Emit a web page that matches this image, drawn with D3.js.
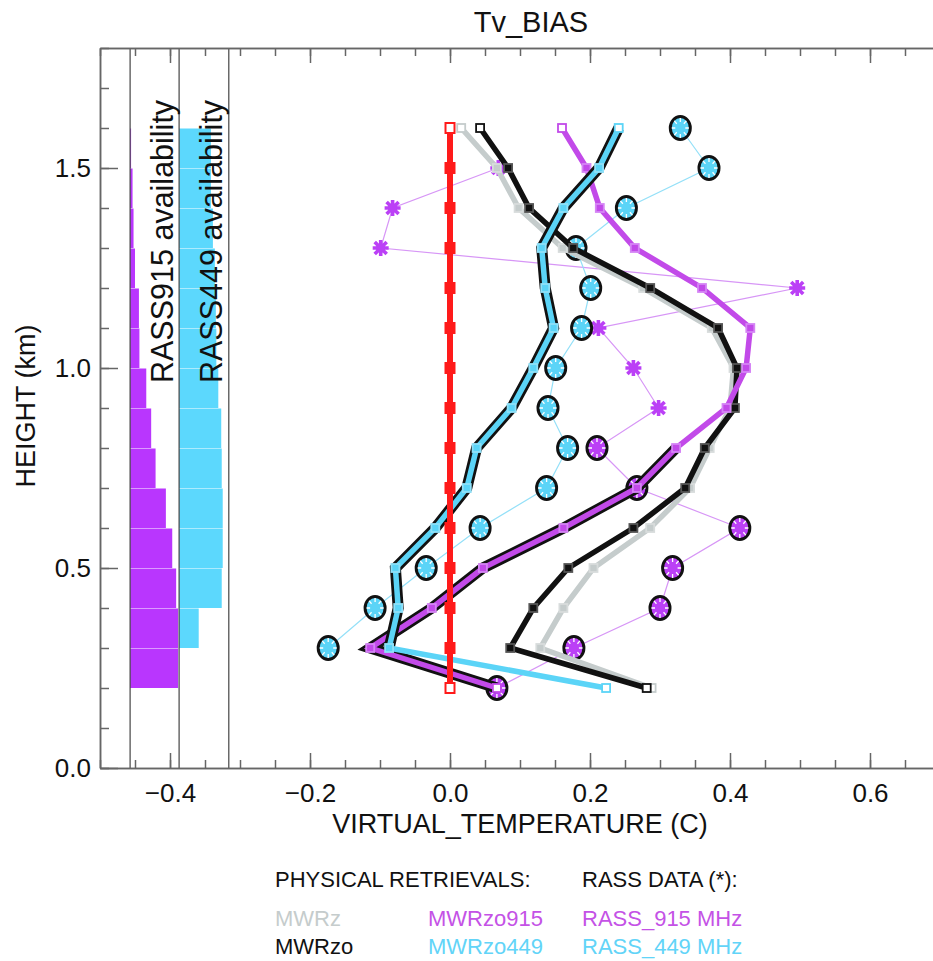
<!DOCTYPE html>
<html>
<head>
<meta charset="utf-8">
<script src="https://cdn.jsdelivr.net/npm/d3@7"></script>
<style>
  body { margin: 0; background: #fff; }
  text { font-family: "Liberation Sans", Arial, sans-serif; fill: #111; }
</style>
</head>
<body>
<script>
// heights of the retrieval levels (km), bottom to top
var heights = [0.2, 0.3, 0.4, 0.5, 0.6, 0.7, 0.8, 0.9, 1.0, 1.1, 1.2, 1.3, 1.4, 1.5, 1.6];

var refBias  = [0, 0, 0, 0, 0, 0, 0, 0, 0, 0, 0, 0, 0, 0, 0];
var mwrz     = [0.288, 0.129, 0.162, 0.205, 0.286, 0.343, 0.371, 0.400, 0.405, 0.374, 0.276, 0.161, 0.098, 0.067, 0.016];
var mwrzo    = [0.281, 0.086, 0.119, 0.169, 0.262, 0.336, 0.364, 0.407, 0.410, 0.383, 0.286, 0.176, 0.113, 0.083, 0.043];
var mwrzo915 = [0.067, -0.114, -0.026, 0.047, 0.162, 0.267, 0.323, 0.395, 0.423, 0.429, 0.360, 0.264, 0.214, 0.195, 0.160];
var mwrzo449 = [0.223, -0.087, -0.074, -0.078, -0.021, 0.024, 0.038, 0.088, 0.119, 0.148, 0.136, 0.131, 0.162, 0.213, 0.241];

var rass915  = [0.067, 0.177, 0.300, 0.318, 0.414, 0.267, 0.210, 0.298, 0.262, 0.212, 0.496, -0.099, -0.082, 0.069, null];
var rass449  = [null, -0.174, -0.107, -0.034, 0.043, 0.138, 0.168, 0.140, 0.151, 0.188, 0.201, 0.180, 0.252, 0.370, 0.329];
// levels marked with an ellipse (and outlined retrieval)
var mark915  = [1, 1, 1, 1, 1, 1, 1, 0, 0, 0, 0, 0, 0, 0, 0];
var mark449  = [0, 1, 1, 1, 1, 1, 1, 1, 1, 1, 1, 1, 1, 1, 1];

// availability bins (bottom of each 0.1 km bin) in percent
var binBottoms = [0.2, 0.3, 0.4, 0.5, 0.6, 0.7, 0.8, 0.9, 1.0, 1.1, 1.2, 1.3, 1.4, 1.5];
var avail915   = [98, 98, 94, 86, 73, 52, 43, 33, 19, 18, 10, 7, 5, 2];
var avail449   = [0, 40, 87, 89, 89, 87, 86, 80, 76, 75, 73, 69, 65, 65];

var xTickLabels = [-0.4, -0.2, 0.0, 0.2, 0.4, 0.6];
var yTickLabels = [0.0, 0.5, 1.0, 1.5];
var panelEdges  = [-0.457, -0.387, -0.316];

var legendRows = [
    [{t: "PHYSICAL RETRIEVALS:", c: "#111"}, null, {t: "RASS DATA (*):", c: "#111"}],
    [{t: "MWRz", c: "#c5cccc"}, {t: "MWRzo915", c: "#c452e6"}, {t: "RASS_915 MHz", c: "#c452e6"}],
    [{t: "MWRzo", c: "#111"}, {t: "MWRzo449", c: "#62d4f8"}, {t: "RASS_449 MHz", c: "#62d4f8"}]
];

var W = 933, H = 961;
var MAG = "#c24ae9", MAG_STAR = "#bb40f6", MAG_BAR = "#b936fe", MAG_THIN = "#d796f6";
var CYA = "#5bd4f7", CYA_BAR = "#5cd8fd", CYA_THIN = "#94e0f8";

var x = d3.scaleLinear().domain([-0.5, 0.7]).range([100, 940]);
var y = d3.scaleLinear().domain([0, 1.8]).range([768, 48]);
var availW = d3.scaleLinear().domain([0, 100]).range([0, x(panelEdges[1]) - x(panelEdges[0])]);

var svg = d3.select("body").append("svg").attr("width", W).attr("height", H);

// availability bars
function drawAvail(vals, x0, color) {
    svg.append("g").selectAll("rect")
        .data(binBottoms.map(function(b, i) { return {b: b, v: vals[i]}; }).filter(function(d) { return d.v > 0; }))
        .enter().append("rect")
        .attr("x", x(x0))
        .attr("y", function(d) { return y(d.b + 0.1) + 0.5; })
        .attr("width", function(d) { return availW(d.v); })
        .attr("height", function(d) { return y(d.b) - y(d.b + 0.1) - 0.5; })
        .style("fill", color);
}
drawAvail(avail915, panelEdges[0], MAG_BAR);
drawAvail(avail449, panelEdges[1], CYA_BAR);

svg.append("g").selectAll("line").data(panelEdges).enter().append("line")
    .attr("x1", function(d) { return x(d); }).attr("x2", function(d) { return x(d); })
    .attr("y1", y(1.8)).attr("y2", y(0))
    .style("stroke", "#444").style("stroke-width", 1.2);

svg.append("text").attr("transform", "translate(" + 173 + "," + 383 + ") rotate(-90)")
    .style("font-size", "30.5px").text("RASS915 availability");
svg.append("text").attr("transform", "translate(" + 222 + "," + 383 + ") rotate(-90)")
    .style("font-size", "30.5px").text("RASS449 availability");

// axes
function styleAxis(g) {
    g.selectAll("path, line").style("stroke", "#666").style("stroke-width", 1.5);
    g.selectAll("text").style("font-size", "26px").style("fill", "#111")
        .style("font-family", '"Liberation Sans", Arial, sans-serif');
}
var minorX = d3.range(-10, 15).map(function(i) { return i * 0.05; });
var minorY = d3.range(0, 19).map(function(i) { return i * 0.1; });

svg.append("g").attr("transform", "translate(0," + y(0) + ")")
    .call(d3.axisBottom(x).tickValues(minorX).tickSize(-8).tickSizeOuter(0).tickFormat(""))
    .call(styleAxis);
svg.append("g").attr("transform", "translate(0," + y(0) + ")")
    .call(d3.axisBottom(x).tickValues(xTickLabels).tickSize(-15).tickSizeOuter(0).tickPadding(16)
        .tickFormat(d3.format(".1f")))
    .call(styleAxis);
svg.append("g").attr("transform", "translate(0," + y(1.8) + ")")
    .call(d3.axisTop(x).tickValues(minorX).tickSize(-8).tickSizeOuter(0).tickFormat(""))
    .call(styleAxis);
svg.append("g").attr("transform", "translate(0," + y(1.8) + ")")
    .call(d3.axisTop(x).tickValues(xTickLabels).tickSize(-15).tickSizeOuter(0).tickFormat(""))
    .call(styleAxis);
svg.append("g").attr("transform", "translate(" + x(-0.5) + ",0)")
    .call(d3.axisLeft(y).tickValues(minorY).tickSize(-9).tickSizeOuter(0).tickFormat(""))
    .call(styleAxis);
svg.append("g").attr("transform", "translate(" + x(-0.5) + ",0)")
    .call(d3.axisLeft(y).tickValues(yTickLabels).tickSize(-18).tickSizeOuter(0).tickPadding(9)
        .tickFormat(d3.format(".1f")))
    .call(styleAxis);

// titles
svg.append("text").attr("x", 531).attr("y", 32).attr("text-anchor", "middle")
    .style("font-size", "29px").text("Tv_BIAS");
svg.append("text").attr("x", 520).attr("y", 833).attr("text-anchor", "middle")
    .style("font-size", "27px").text("VIRTUAL_TEMPERATURE (C)");
svg.append("text").attr("transform", "translate(35," + 406 + ") rotate(-90)")
    .attr("text-anchor", "middle").style("font-size", "27px").text("HEIGHT (km)");

// RASS data: thin lines and star markers
function pts(vals) {
    return heights.map(function(h, i) { return {h: h, v: vals[i], i: i}; });
}
function drawRass(vals, marks, lineColor, color) {
    var line = d3.line()
        .defined(function(d) { return d.v != null; })
        .x(function(d) { return x(d.v); })
        .y(function(d) { return y(d.h); });
    svg.append("path").datum(pts(vals)).attr("d", line)
        .style("fill", "none").style("stroke", lineColor).style("stroke-width", 1.2);

    var g = svg.append("g").selectAll("g")
        .data(pts(vals).filter(function(d) { return d.v != null; }))
        .enter().append("g")
        .attr("transform", function(d) { return "translate(" + x(d.v) + "," + y(d.h) + ")"; });

    g.filter(function(d) { return marks[d.i]; }).each(function() {
        var m = d3.select(this);
        m.append("ellipse").attr("rx", 10).attr("ry", 11.5)
            .style("fill", color).style("stroke", "#111").style("stroke-width", 3);
        m.append("path")
            .attr("d", d3.range(8).map(function(k) {
                var a = k * Math.PI / 4;
                return "M" + (5 * Math.cos(a)) + "," + (6 * Math.sin(a)) +
                       "L" + (8.5 * Math.cos(a)) + "," + (10 * Math.sin(a));
            }).join(""))
            .style("stroke", "#fff").style("stroke-width", 1.3);
    });
    g.filter(function(d) { return !marks[d.i]; }).each(function() {
        var m = d3.select(this);
        m.append("path")
            .attr("d", "M-8,0H8M0,-8V8M-6,-6L6,6M-6,6L6,-6")
            .style("stroke", color).style("stroke-width", 3.6).style("fill", "none");
        m.append("circle").attr("r", 4.5).style("fill", color);
    });
}
drawRass(rass915, mark915, MAG_THIN, MAG_STAR);
drawRass(rass449, mark449, CYA_THIN, CYA);

// retrieval profiles: thick lines with square markers
function drawProfile(vals, color, edge, outline) {
    var data = pts(vals);
    var line = d3.line().x(function(d) { return x(d.v); }).y(function(d) { return y(d.h); });
    if (outline) {
        var seg = d3.line()
            .defined(function(d) { return outline[d.i]; })
            .x(function(d) { return x(d.v); }).y(function(d) { return y(d.h); });
        svg.append("path").datum(data).attr("d", seg)
            .style("fill", "none").style("stroke", "#111").style("stroke-width", 11)
            .style("stroke-linejoin", "miter");
    }
    svg.append("path").datum(data).attr("d", line)
        .style("fill", "none").style("stroke", color).style("stroke-width", 5.5);

    svg.append("g").selectAll("rect").data(data).enter().append("rect")
        .attr("x", function(d) { return x(d.v) - 4; })
        .attr("y", function(d) { return y(d.h) - 4; })
        .attr("width", 8).attr("height", 8)
        .style("fill", function(d) { return (d.i == 0 || d.i == data.length - 1) ? "#fff" : color; })
        .style("stroke", function(d) { return (d.i == 0 || d.i == data.length - 1) ? color : edge; })
        .style("stroke-width", 1.8);
}
drawProfile(mwrz, "#c5cccc", "#d8dcdc", null);
drawProfile(mwrzo, "#111", "#555", null);
drawProfile(mwrzo915, MAG, "#d585f5", mark915);
drawProfile(mwrzo449, CYA, "#8fe0f8", mark449);

// zero reference
svg.append("path").datum(pts(refBias))
    .attr("d", d3.line().x(function(d) { return x(d.v); }).y(function(d) { return y(d.h); }))
    .style("fill", "none").style("stroke", "#ff1a1a").style("stroke-width", 6);
svg.append("g").selectAll("rect").data(pts(refBias)).enter().append("rect")
    .attr("x", function(d) { return x(d.v) - 4.5; })
    .attr("y", function(d) { return y(d.h) - 5; })
    .attr("width", 9).attr("height", 10)
    .style("fill", function(d) { return (d.i == 0 || d.i == heights.length - 1) ? "#fff" : "#ff1a1a"; })
    .style("stroke", "#ff1a1a").style("stroke-width", 2);

// legend
var legendX = [275, 428, 582], legendY = [887, 926, 954];
legendRows.forEach(function(row, r) {
    row.forEach(function(item, c) {
        if (!item) return;
        svg.append("text").attr("x", legendX[c]).attr("y", legendY[r])
            .style("font-size", "22px").style("fill", item.c).text(item.t);
    });
});
</script>
</body>
</html>
